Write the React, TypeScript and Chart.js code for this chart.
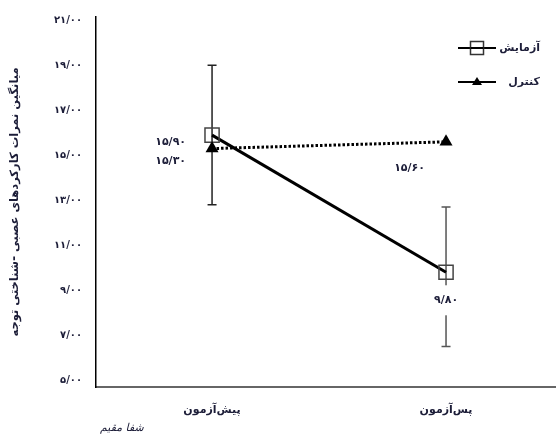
import React, { useEffect, useRef } from "react";
import { Chart, registerables } from "chart.js";

Chart.register(...registerables);

// ---- data ----
const categories = ["پیش‌آزمون", "پس‌آزمون"];
const seriesNames = ["آزمایش", "کنترل"];
const experimentMeans = [15.9, 9.8];
const controlMeans = [15.3, 15.6];
const experimentErrLow = [12.8, 6.5];
const experimentErrHigh = [19.0, 12.7];
const yTicks = [5, 7, 9, 11, 13, 15, 17, 19, 21];
const yTitle = "میانگین نمرات کارکردهای عصبی -شناختی توجه";
const signature = "شفا مقیم";

const FONT = '"DejaVu Sans", sans-serif';
const TEXT = "#1c1d38";

const faDigits = "۰۱۲۳۴۵۶۷۸۹";
function toFa(v: number): string {
  return v
    .toFixed(2)
    .replace(".", "/")
    .replace(/[0-9]/g, (d) => faDigits[Number(d)]);
}

// label placement relative to each point (styling only)
const labelPlacement = [
  [
    { dx: -26, dy: 7, align: "right", bg: false },
    { dx: 0, dy: 28, align: "center", bg: true },
  ],
  [
    { dx: -26, dy: 13, align: "right", bg: false },
    { dx: -21, dy: 26, align: "right", bg: false },
  ],
];

const errorBarPlugin = {
  id: "errorBars",
  beforeDatasetsDraw(chart: any) {
    const ctx = chart.ctx;
    const xs = chart.scales.x;
    const ys = chart.scales.y;
    const colors = ["#222222", "#555555"];
    ctx.save();
    experimentErrLow.forEach((lo, i) => {
      const x = xs.getPixelForValue(i);
      const y1 = ys.getPixelForValue(lo);
      const y2 = ys.getPixelForValue(experimentErrHigh[i]);
      ctx.strokeStyle = colors[i];
      ctx.lineWidth = 1.5;
      ctx.beginPath();
      ctx.moveTo(x, y1);
      ctx.lineTo(x, y2);
      ctx.moveTo(x - 4.5, y1);
      ctx.lineTo(x + 4.5, y1);
      ctx.moveTo(x - 4.5, y2);
      ctx.lineTo(x + 4.5, y2);
      ctx.stroke();
    });
    ctx.restore();
  },
};

const valueLabelPlugin = {
  id: "valueLabels",
  afterDatasetsDraw(chart: any) {
    const ctx = chart.ctx;
    ctx.save();
    ctx.font = `bold 11px ${FONT}`;
    ctx.textBaseline = "middle";
    chart.data.datasets.forEach((ds: any, di: number) => {
      const meta = chart.getDatasetMeta(di);
      meta.data.forEach((pt: any, pi: number) => {
        const p = labelPlacement[di][pi];
        const txt = toFa(ds.data[pi].y);
        const x = pt.x + p.dx;
        const y = pt.y + p.dy;
        const w = ctx.measureText(txt).width;
        if (p.bg) {
          ctx.fillStyle = "#ffffff";
          ctx.fillRect(x - w / 2 - 3, y - 15, w + 6, 30);
        }
        ctx.fillStyle = TEXT;
        ctx.textAlign = p.align as CanvasTextAlign;
        ctx.fillText(txt, x, y);
      });
    });
    ctx.restore();
  },
};

const legendPlugin = {
  id: "customLegend",
  afterDraw(chart: any) {
    const ctx = chart.ctx;
    ctx.save();
    chart.data.datasets.forEach((ds: any, i: number) => {
      const y = 48 + i * 34;
      ctx.font = `bold 11px ${FONT}`;
      ctx.fillStyle = TEXT;
      ctx.textAlign = "right";
      ctx.textBaseline = "middle";
      ctx.fillText(ds.label, 540, y);
      const l = 458;
      const r = 496;
      ctx.strokeStyle = "#000";
      ctx.lineWidth = 2;
      ctx.setLineDash([]);
      ctx.beginPath();
      ctx.moveTo(l, y);
      ctx.lineTo(r, y);
      ctx.stroke();
      const cx = (l + r) / 2;
      if (ds.pointStyle === "rect") {
        ctx.fillStyle = "#fff";
        ctx.fillRect(cx - 6.5, y - 6.5, 13, 13);
        ctx.strokeStyle = "#333";
        ctx.lineWidth = 1.5;
        ctx.strokeRect(cx - 6.5, y - 6.5, 13, 13);
        ctx.beginPath();
        ctx.moveTo(cx - 6.5, y);
        ctx.lineTo(cx + 6.5, y);
        ctx.strokeStyle = "#000";
        ctx.lineWidth = 2;
        ctx.stroke();
      } else {
        ctx.fillStyle = "#000";
        ctx.beginPath();
        ctx.moveTo(cx, y - 5);
        ctx.lineTo(cx + 5, y + 3);
        ctx.lineTo(cx - 5, y + 3);
        ctx.closePath();
        ctx.fill();
      }
    });
    ctx.font = `italic 11px ${FONT}`;
    ctx.fillStyle = TEXT;
    ctx.textAlign = "left";
    ctx.textBaseline = "middle";
    ctx.fillText(signature, 100, 428);
    ctx.restore();
  },
};

export default function App() {
  const ref = useRef<HTMLCanvasElement | null>(null);

  useEffect(() => {
    if (!ref.current) return;
    const chart = new Chart(ref.current, {
      type: "line",
      data: {
        datasets: [
          {
            label: seriesNames[0],
            data: experimentMeans.map((v, i) => ({ x: i, y: v })),
            borderColor: "#000000",
            borderWidth: 3,
            pointStyle: "rect",
            pointRadius: 10,
            pointBorderColor: "#444444",
            pointBorderWidth: 1.5,
            pointBackgroundColor: "rgba(0,0,0,0)",
            tension: 0,
            clip: false,
            order: 2,
          },
          {
            label: seriesNames[1],
            data: controlMeans.map((v, i) => ({ x: i, y: v })),
            borderColor: "#000000",
            borderWidth: 3,
            borderDash: [2.5, 2],
            pointStyle: "triangle",
            pointRadius: 7.5,
            pointBorderColor: "#000000",
            pointBorderWidth: 0,
            pointBackgroundColor: "#000000",
            tension: 0,
            clip: false,
            order: 1,
          },
        ] as any,
      },
      options: {
        animation: false,
        responsive: false,
        layout: { autoPadding: false, padding: { top: 17, right: 0, left: 0, bottom: 0 } },
        plugins: {
          legend: { display: false },
          tooltip: { enabled: false },
        },
        scales: {
          x: {
            type: "linear",
            min: -0.496,
            max: 1.47,
            grid: { display: false, drawTicks: false },
            border: { display: true, color: "#666666", width: 2 },
            afterBuildTicks: (s: any) => {
              s.ticks = categories.map((_, i) => ({ value: i }));
            },
            afterFit: (s: any) => {
              s.height = 56;
              s.paddingLeft = 0;
              s.paddingRight = 0;
            },
            ticks: {
              padding: 17,
              color: TEXT,
              font: { family: FONT, size: 11, weight: "bold" },
              callback: (v: any) => categories[Number(v)] ?? "",
            },
          },
          y: {
            type: "linear",
            min: 4.7,
            max: 21.15,
            grid: { display: false, drawTicks: false },
            border: { display: true, color: "#000000", width: 1.5 },
            afterBuildTicks: (s: any) => {
              s.ticks = yTicks.map((v) => ({ value: v }));
            },
            afterFit: (s: any) => {
              s.width = 96;
              s.paddingTop = 0;
              s.paddingBottom = 0;
            },
            ticks: {
              padding: 14,
              color: TEXT,
              font: { family: FONT, size: 10, weight: "bold" },
              callback: (v: any) => toFa(Number(v)),
            },
            title: {
              display: true,
              text: yTitle,
              color: TEXT,
              font: { family: FONT, size: 11.5, weight: "bold" },
              padding: { top: 8, bottom: 0 },
            },
          },
        },
      } as any,
      plugins: [errorBarPlugin, valueLabelPlugin, legendPlugin],
    });
    return () => chart.destroy();
  }, []);

  return (
    <div style={{ position: "fixed", left: 0, top: 0, width: 556, height: 443, background: "#fff" }}>
      <canvas ref={ref} width={556} height={443} style={{ width: 556, height: 443 }} />
    </div>
  );
}
